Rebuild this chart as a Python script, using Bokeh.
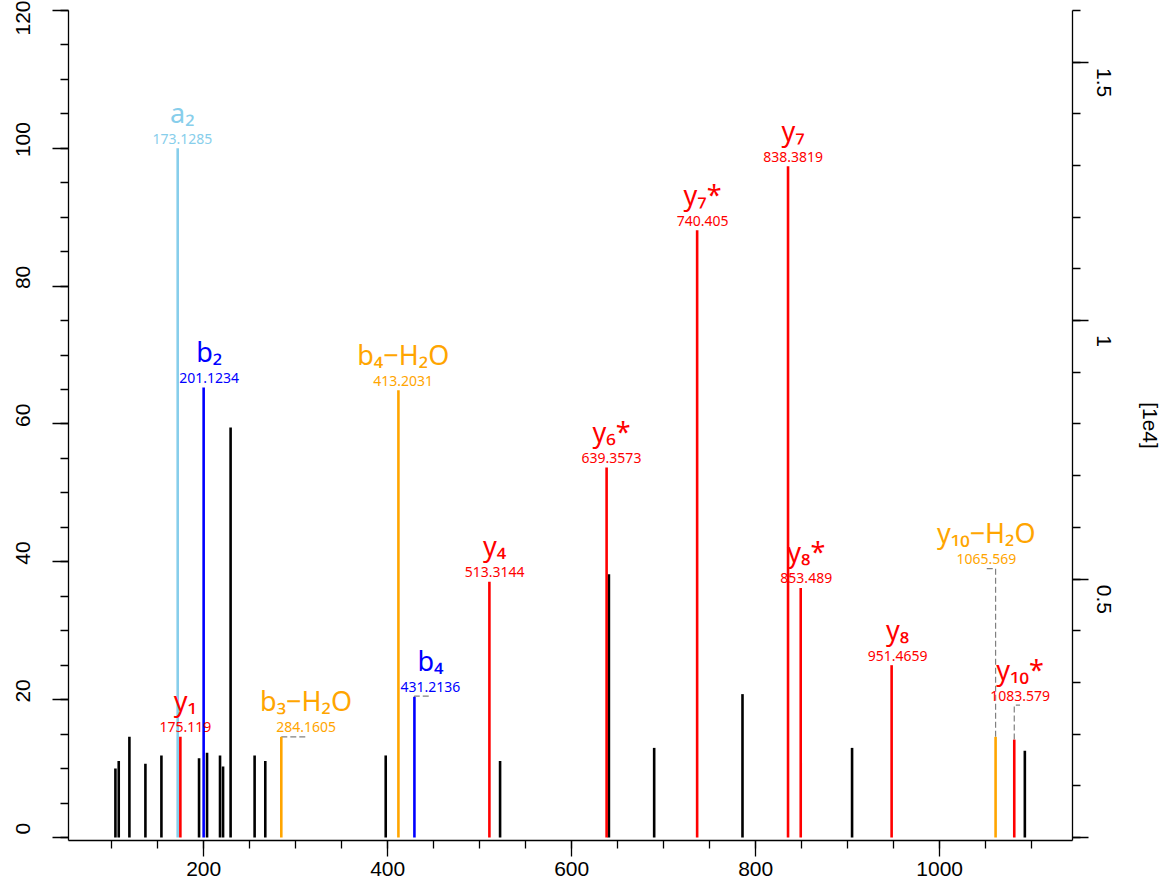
from bokeh.plotting import figure
from bokeh.models import (Range1d, LinearAxis, SingleIntervalTicker,
                          CustomJSTickFormatter, ColumnDataSource)
from bokeh.core.properties import value
from bokeh.embed import file_html
from bokeh.resources import INLINE

# ---------------- data ----------------
# unannotated peaks (m/z, relative intensity %)
other_mz = [104.1, 107.7, 119.3, 136.7, 154.1, 195.0, 203.7, 217.8, 221.1,
            229.3, 255.4, 267.0, 397.9, 522.2, 640.5, 689.7, 785.7, 904.8, 1092.6]
other_int = [10.0, 11.1, 14.6, 10.7, 11.9, 11.5, 12.3, 11.9, 10.3,
             59.5, 11.9, 11.1, 11.9, 11.1, 38.2, 13.0, 20.8, 13.0, 12.6]

# annotated fragment ions
ann_mz = [171.8, 174.7, 200.0, 284.4, 411.7, 429.1, 510.6, 638.0, 736.4,
          835.2, 849.0, 947.8, 1060.8, 1081.1]
ann_int = [100.0, 14.6, 65.3, 14.6, 64.9, 20.4, 37.1, 53.7, 88.1,
           97.4, 36.2, 25.0, 14.6, 14.2]
ann_series = ["a", "y", "b", "loss", "loss", "b", "y", "y", "y",
              "y", "y", "y", "loss", "y"]
ann_ion = ["a₂", "y₁", "b₂", "b₃−H₂O", "b₄−H₂O", "b₄", "y₄", "y₆*", "y₇*",
           "y₇", "y₈*", "y₈", "y₁₀−H₂O", "y₁₀*"]
ann_text = ["173.1285", "175.119", "201.1234", "284.1605", "413.2031",
            "431.2136", "513.3144", "639.3573", "740.405", "838.3819",
            "853.489", "951.4659", "1065.569", "1083.579"]
# where each label sits (center m/z, base intensity)
label_mz = [176.9, 180.1, 206.0, 311.3, 416.9, 446.5, 516.2, 643.3, 742.3,
            840.7, 855.0, 954.4, 1050.7, 1087.4]
label_int = [100.0, 14.6, 65.3, 14.6, 64.9, 20.5, 37.1, 53.7, 88.1,
             97.4, 36.2, 25.0, 39.0, 19.2]

x_ticks_major = 200
y_ticks_major = 20
right_ticks_major = 5000

# ---------------- styling ----------------
series_color = {"a": "#87CEEB", "b": "#0000FF", "y": "#FF0000", "loss": "#FFA500"}
colors = [series_color[s] for s in ann_series]

X_LO, X_HI = 53.1, 1144.4
Y_LO, Y_HI = -0.44, 120.0
R_HI = 16000.0
R_LO = Y_LO * R_HI / Y_HI

p = figure(width=1164, height=886,
           x_range=Range1d(X_LO, X_HI), y_range=Range1d(Y_LO, Y_HI),
           output_backend="svg", toolbar_location=None,
           min_border_left=68, min_border_right=91,
           min_border_top=10, min_border_bottom=46)
p.outline_line_color = None
p.grid.visible = False
p.background_fill_color = "white"
p.border_fill_color = "white"

TICK_FONT = "Liberation Sans"


def style_axis(ax, minor_out=8):
    ax.axis_line_width = 1.3
    ax.axis_line_color = "black"
    ax.major_tick_line_width = 1.3
    ax.minor_tick_line_width = 1.3
    ax.major_tick_line_color = "black"
    ax.minor_tick_line_color = "black"
    ax.major_tick_in = 0
    ax.minor_tick_in = 0
    ax.major_tick_out = 16
    ax.minor_tick_out = minor_out
    ax.major_label_text_font = TICK_FONT
    ax.major_label_text_font_size = "21px"
    ax.major_label_text_color = "black"


xax = p.below[0]
xax.ticker = SingleIntervalTicker(interval=x_ticks_major, num_minor_ticks=4)
style_axis(xax)
xax.major_label_standoff = 5

yax = p.left[0]
yax.ticker = SingleIntervalTicker(interval=y_ticks_major, num_minor_ticks=4)
# labels sit slightly above their ticks, as in the original rendering
yax.formatter = CustomJSTickFormatter(
    code="return '\\u00a0\\u00a0\\u00a0' + String(Math.round(tick));")
style_axis(yax)
yax.major_label_orientation = "parallel"
yax.major_label_standoff = 18

p.extra_y_ranges = {"abs": Range1d(R_LO, R_HI)}
rax = LinearAxis(y_range_name="abs",
                 ticker=SingleIntervalTicker(interval=right_ticks_major, num_minor_ticks=5),
                 formatter=CustomJSTickFormatter(
                     code="return tick == 0 ? '' : '\\u00a0'.repeat(7) + String(Math.round(tick / 1000) / 10);"),
                 axis_label="[1e4]")
style_axis(rax)
rax.major_label_orientation = "parallel"
rax.major_label_standoff = 4
rax.axis_label_standoff = 20
rax.axis_label_text_font = TICK_FONT
rax.axis_label_text_font_size = "21px"
rax.axis_label_text_font_style = "normal"
rax.axis_label_text_color = "black"
p.add_layout(rax, "right")

# ---------------- peaks ----------------
src_other = ColumnDataSource(dict(mz=other_mz, inten=other_int))
p.segment(x0="mz", y0=0, x1="mz", y1="inten", source=src_other,
          line_color="black", line_width=2.6)

src_ann = ColumnDataSource(dict(mz=ann_mz, inten=ann_int, color=colors,
                                ion=ann_ion, txt=ann_text,
                                lx=label_mz, ly=label_int))

# connectors for displaced labels
cx, cy = [], []
for m, i, lm, li in zip(ann_mz, ann_int, label_mz, label_int):
    if abs(lm - m) > 8 or abs(li - i) > 1:
        cx.append([m, m, lm])
        cy.append([i, li, li])
p.multi_line(xs=cx, ys=cy, line_color="#808080", line_width=1.2,
             line_dash="6 3")

p.segment(x0="mz", y0=0, x1="mz", y1="inten", source=src_ann,
          line_color="color", line_width=2.6)

ANN_FONT = value("Noto Sans")
p.text(x="lx", y="ly", text="ion", source=src_ann, text_color="color",
       text_font=ANN_FONT, text_font_size="27px", text_align="center",
       text_baseline="alphabetic", y_offset=-36)
p.text(x="lx", y="ly", text="txt", source=src_ann, text_color="color",
       text_font=ANN_FONT, text_font_size="14px", text_align="center",
       text_baseline="alphabetic", y_offset=-9.5)

open("out.html", "w").write(file_html(p, INLINE))
